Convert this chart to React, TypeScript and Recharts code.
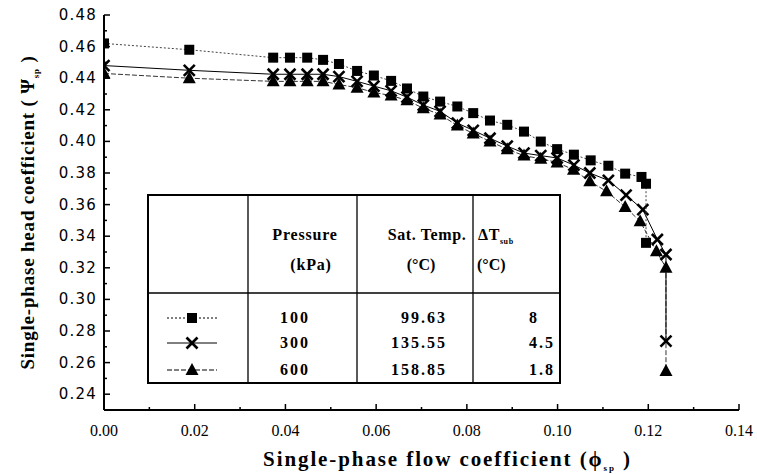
import { ScatterChart, Scatter, XAxis, YAxis } from "recharts";

// 100 kPa, squares
const phi100 = [0, 0.0188, 0.0373, 0.041, 0.0448, 0.0483, 0.0518, 0.0558, 0.0595, 0.0633, 0.0668, 0.0704, 0.0741, 0.0779, 0.0814, 0.0851, 0.0889, 0.0926, 0.0963, 0.0999, 0.1036, 0.1073, 0.1112, 0.1149, 0.1185, 0.1195, 0.1195];
const psi100 = [0.462, 0.458, 0.453, 0.453, 0.453, 0.4516, 0.449, 0.4446, 0.4417, 0.4383, 0.4335, 0.4284, 0.4252, 0.4221, 0.4179, 0.4132, 0.4105, 0.4062, 0.3999, 0.3951, 0.3916, 0.388, 0.3846, 0.3796, 0.3775, 0.3732, 0.3358];

// 300 kPa, crosses
const phi300 = [0, 0.0188, 0.0373, 0.041, 0.0448, 0.0483, 0.0518, 0.0558, 0.0595, 0.0633, 0.0668, 0.0704, 0.0741, 0.0779, 0.0814, 0.0851, 0.0889, 0.0926, 0.0963, 0.0999, 0.1036, 0.1071, 0.1112, 0.1151, 0.1188, 0.122, 0.1239, 0.1239];
const psi300 = [0.448, 0.445, 0.4425, 0.4425, 0.4425, 0.4425, 0.441, 0.438, 0.435, 0.432, 0.428, 0.423, 0.419, 0.4116, 0.407, 0.402, 0.397, 0.3926, 0.391, 0.3895, 0.385, 0.38, 0.3753, 0.366, 0.3568, 0.3379, 0.3284, 0.2736];

// 600 kPa, triangles
const phi600 = [0, 0.0188, 0.0373, 0.041, 0.0448, 0.0483, 0.0518, 0.0558, 0.0595, 0.0633, 0.0668, 0.0704, 0.0741, 0.0779, 0.0814, 0.0851, 0.0889, 0.0926, 0.0963, 0.0999, 0.1035, 0.1071, 0.1108, 0.1149, 0.1182, 0.1218, 0.1239, 0.1239];
const psi600 = [0.443, 0.44, 0.438, 0.438, 0.438, 0.438, 0.436, 0.434, 0.431, 0.429, 0.426, 0.421, 0.417, 0.41, 0.405, 0.4, 0.395, 0.391, 0.389, 0.3867, 0.3821, 0.3747, 0.3684, 0.3585, 0.3494, 0.3305, 0.32, 0.2547];

const xMajor = [0, 0.02, 0.04, 0.06, 0.08, 0.1, 0.12, 0.14];
const xMinor = [0.01, 0.03, 0.05, 0.07, 0.09, 0.11, 0.13];
const yMajor = [0.24, 0.26, 0.28, 0.3, 0.32, 0.34, 0.36, 0.38, 0.4, 0.42, 0.44, 0.46, 0.48];
const yMinor = [0.25, 0.27, 0.29, 0.31, 0.33, 0.35, 0.37, 0.39, 0.41, 0.43, 0.45, 0.47];

const pressures = ["100", "300", "600"];
const satTemps = ["99.63", "135.55", "158.85"];
const subcool = ["8", "4.5", "1.8"];

const zip = (xs: number[], ys: number[]) => xs.map((x, i) => ({ x, y: ys[i] }));
const data100 = zip(phi100, psi100);
const data300 = zip(phi300, psi300);
const data600 = zip(phi600, psi600);

const xTicks = [...xMajor, ...xMinor].sort((a, b) => a - b);
const yTicks = [...yMajor, ...yMinor].sort((a, b) => a - b);

const SERIF = "'Liberation Serif', 'Times New Roman', serif";
const SANS = "'DejaVu Sans', sans-serif";

function Square({ cx, cy }: any) {
  return <rect x={cx - 5} y={cy - 5} width={10} height={10} fill="#000" />;
}
function Cross({ cx, cy }: any) {
  const s = 5.5;
  return (
    <g stroke="#000" strokeWidth={2.6}>
      <line x1={cx - s} y1={cy - s} x2={cx + s} y2={cy + s} />
      <line x1={cx - s} y1={cy + s} x2={cx + s} y2={cy - s} />
    </g>
  );
}
function Triangle({ cx, cy }: any) {
  return <path d={`M${cx},${cy - 7} L${cx - 6.5},${cy + 5} L${cx + 6.5},${cy + 5} Z`} fill="#000" />;
}

function BottomTick({ x, y, payload }: any) {
  const major = xMajor.includes(payload.value);
  return (
    <g>
      <line x1={x} x2={x} y1={y} y2={y - (major ? 6 : 3)} stroke="#000" strokeWidth={1.5} />
      {major && (
        <text x={x} y={y + 26} textAnchor="middle" fontFamily={SERIF} fontSize={16} fill="#000">
          {payload.value.toFixed(2)}
        </text>
      )}
    </g>
  );
}
function TopTick({ x, y, payload }: any) {
  const major = xMajor.includes(payload.value);
  return <line x1={x} x2={x} y1={y} y2={y + (major ? 6 : 3)} stroke="#000" strokeWidth={1.5} />;
}
function LeftTick({ x, y, payload }: any) {
  const major = yMajor.includes(payload.value);
  return (
    <g>
      <line x1={x} x2={x + (major ? 6 : 3)} y1={y} y2={y} stroke="#000" strokeWidth={1.5} />
      {major && (
        <text x={x - 7} y={y + 5} textAnchor="end" fontFamily={SANS} fontSize={15} letterSpacing={1.2} fill="#000">
          {payload.value.toFixed(2)}
        </text>
      )}
    </g>
  );
}
function RightTick({ x, y, payload }: any) {
  const major = yMajor.includes(payload.value);
  return <line x1={x} x2={x - (major ? 6 : 3)} y1={y} y2={y} stroke="#000" strokeWidth={1.5} />;
}

function XTitle({ viewBox }: any) {
  const cx = viewBox.x + viewBox.width / 2 + 26;
  return (
    <text x={cx} y={viewBox.y + 56} textAnchor="middle" fontFamily={SERIF} fontWeight="bold" fontSize={21} letterSpacing={1.9} fill="#000">
      Single-phase flow coefficient (ϕ
      <tspan fontSize={9} dy={5}>sp</tspan>
      <tspan dy={-5}> )</tspan>
    </text>
  );
}
function YTitle({ viewBox }: any) {
  const cx = viewBox.x + 34;
  const cy = viewBox.y + viewBox.height / 2;
  return (
    <text x={cx} y={cy} transform={`rotate(-90 ${cx} ${cy})`} textAnchor="middle" fontFamily={SERIF} fontWeight="bold" fontSize={19} letterSpacing={0.8} fill="#000">
      Single-phase head coefficient ( Ψ
      <tspan fontSize={9} dy={5}>sp</tspan>
      <tspan dy={-5}> )</tspan>
    </text>
  );
}

function LegendTable() {
  const rowY = [129, 154, 181];
  const marks = [Square, Cross, Triangle];
  const dashes = ["2 2", undefined, "5 2"];
  const txt = { fontFamily: SERIF, fontWeight: "bold" as const, fontSize: 16, fill: "#000" };
  return (
    <svg width={414} height={190} style={{ position: "absolute", left: 147, top: 194 }}>
      <rect x={1} y={1} width={412} height={188} fill="#fff" stroke="#000" strokeWidth={2} />
      <line x1={101} x2={101} y1={1} y2={189} stroke="#000" strokeWidth={1.3} />
      <line x1={210} x2={210} y1={1} y2={189} stroke="#000" strokeWidth={1.3} />
      <line x1={326} x2={326} y1={1} y2={189} stroke="#000" strokeWidth={1.3} />
      <line x1={1} x2={413} y1={99} y2={99} stroke="#000" strokeWidth={1.5} />
      <text x={158} y={46} textAnchor="middle" letterSpacing={0.8} {...txt}>Pressure</text>
      <text x={164} y={76} textAnchor="middle" letterSpacing={0.8} {...txt}>(kPa)</text>
      <text x={280} y={46} textAnchor="middle" letterSpacing={0.6} {...txt}>Sat. Temp.</text>
      <text x={274} y={76} textAnchor="middle" {...txt}>(°C)</text>
      <text x={331} y={46} letterSpacing={0.6} {...txt}>
        ΔT<tspan fontSize={8} dy={4}>sub</tspan>
      </text>
      <text x={330} y={76} {...txt}>(°C)</text>
      {rowY.map((y, i) => {
        const Mark = marks[i];
        return (
          <g key={i}>
            <line x1={20} x2={70} y1={y - 5} y2={y - 5} stroke="#000" strokeWidth={1} strokeDasharray={dashes[i]} />
            <Mark cx={45} cy={y - 5} />
            <text x={133} y={y} letterSpacing={2} {...txt}>{pressures[i]}</text>
            <text x={300} y={y} textAnchor="end" letterSpacing={2} {...txt}>{satTemps[i]}</text>
            <text x={382} y={y} letterSpacing={2} {...txt}>{subcool[i]}</text>
          </g>
        );
      })}
    </svg>
  );
}

export default function App() {
  return (
    <div style={{ position: "relative", width: 757, height: 474, background: "#fff" }}>
      <style>{"body{margin:0}"}</style>
      <ScatterChart width={757} height={474} margin={{ top: 15, right: 18, left: 0, bottom: 0 }}>
        <XAxis
          xAxisId="b"
          type="number"
          dataKey="x"
          domain={[0, 0.14]}
          ticks={xTicks}
          interval={0}
          tickLine={false}
          tickSize={0}
          tickMargin={0}
          tick={<BottomTick />}
          axisLine={{ stroke: "#000", strokeWidth: 2 }}
          height={64}
          allowDataOverflow
          label={<XTitle />}
        />
        <XAxis
          xAxisId="t"
          orientation="top"
          type="number"
          dataKey="x"
          domain={[0, 0.14]}
          ticks={xTicks}
          interval={0}
          tickLine={false}
          tickSize={0}
          tickMargin={0}
          tick={<TopTick />}
          axisLine={{ stroke: "#000", strokeWidth: 2 }}
          height={0}
          allowDataOverflow
        />
        <YAxis
          yAxisId="l"
          type="number"
          dataKey="y"
          domain={[0.23, 0.48]}
          ticks={yTicks}
          interval={0}
          tickLine={false}
          tickSize={0}
          tickMargin={0}
          tick={<LeftTick />}
          axisLine={{ stroke: "#000", strokeWidth: 2 }}
          width={104}
          allowDataOverflow
          label={<YTitle />}
        />
        <YAxis
          yAxisId="r"
          orientation="right"
          type="number"
          dataKey="y"
          domain={[0.23, 0.48]}
          ticks={yTicks}
          interval={0}
          tickLine={false}
          tickSize={0}
          tickMargin={0}
          tick={<RightTick />}
          axisLine={{ stroke: "#000", strokeWidth: 2 }}
          width={0}
          allowDataOverflow
        />
        <Scatter
          xAxisId="b"
          yAxisId="l"
          data={data600}
          line={{ stroke: "#333", strokeWidth: 1, strokeDasharray: "5 2" }}
          lineType="joint"
          shape={(p: any) => <Triangle {...p} />}
          isAnimationActive={false}
        />
        <Scatter
          xAxisId="b"
          yAxisId="l"
          data={data300}
          line={{ stroke: "#000", strokeWidth: 1 }}
          lineType="joint"
          shape={(p: any) => <Cross {...p} />}
          isAnimationActive={false}
        />
        <Scatter
          xAxisId="b"
          yAxisId="l"
          data={data100}
          line={{ stroke: "#444", strokeWidth: 1, strokeDasharray: "2 2" }}
          lineType="joint"
          shape={(p: any) => <Square {...p} />}
          isAnimationActive={false}
        />
      </ScatterChart>
      <LegendTable />
    </div>
  );
}
